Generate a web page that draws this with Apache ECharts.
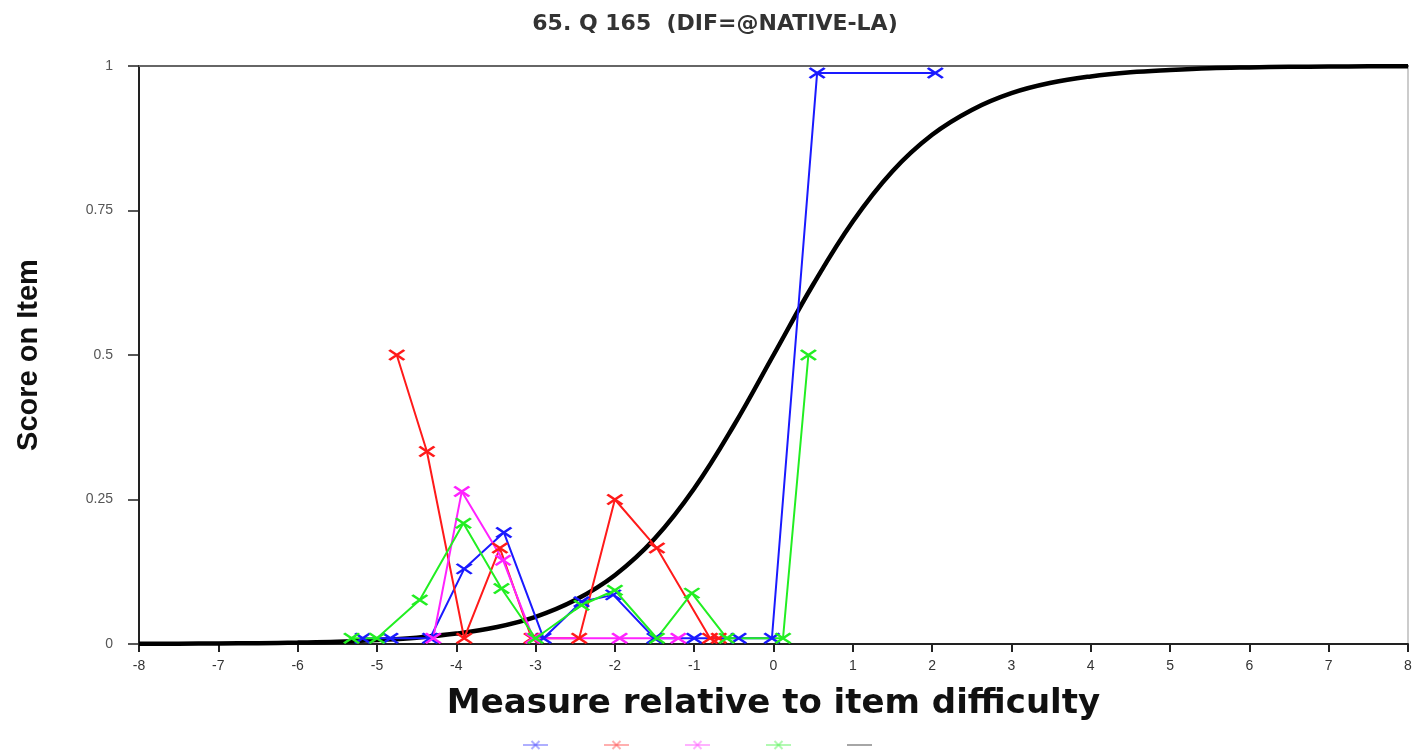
<!DOCTYPE html>
<html>
<head>
<meta charset="utf-8">
<script src="https://cdn.jsdelivr.net/npm/echarts@6/dist/echarts.min.js"></script>
<style>html,body{margin:0;padding:0;background:#fff}#c{width:1416px;height:752px}</style>
</head>
<body>
<div id="c"></div>
<script>
const titleText = '65. Q 165  (DIF=@NATIVE-LA)';
const xName = 'Measure relative to item difficulty';
const yName = 'Score on Item';
const yTickLabels = {0: '0', 0.25: '0.25', 0.5: '0.5', 0.75: '0.75', 1: '1'};

const blueX = [-5.18, -4.83, -4.33, -3.9, -3.4, -2.9, -2.42, -2.02, -1.5, -1.0, -0.44, -0.02, 0.55, 2.04];
const blueY = [0.01, 0.01, 0.01, 0.13, 0.193, 0.01, 0.073, 0.085, 0.01, 0.01, 0.01, 0.01, 0.988, 0.988];

const redX = [-4.75, -4.37, -3.9, -3.45, -3.05, -2.45, -2.0, -1.47, -0.8, -0.69];
const redY = [0.5, 0.333, 0.01, 0.166, 0.01, 0.01, 0.25, 0.166, 0.01, 0.01];

const magentaX = [-4.29, -3.93, -3.41, -3.03, -1.94, -1.2];
const magentaY = [0.01, 0.264, 0.145, 0.01, 0.01, 0.01];

const greenX = [-5.32, -5.0, -4.46, -3.91, -3.43, -3.0, -2.42, -2.0, -1.47, -1.03, -0.59, 0.12, 0.44];
const greenY = [0.01, 0.01, 0.076, 0.209, 0.096, 0.01, 0.067, 0.093, 0.01, 0.088, 0.01, 0.01, 0.5];

const curveX = [-8, -7.5, -7, -6.5, -6, -5.5, -5, -4.5, -4, -3.5, -3, -2.5, -2, -1.5, -1, -0.5, 0, 0.5, 1, 1.5, 2, 2.5, 3, 3.5, 4, 4.5, 5, 5.5, 6, 6.5, 7, 7.5, 8];
const curveY = [0.0003, 0.0006, 0.001, 0.0015, 0.0025, 0.004, 0.007, 0.011, 0.018, 0.029, 0.047, 0.076, 0.119, 0.182, 0.269, 0.378, 0.5, 0.622, 0.731, 0.818, 0.881, 0.924, 0.953, 0.971, 0.982, 0.989, 0.993, 0.996, 0.9975, 0.9985, 0.999, 0.9994, 0.9997];

const seriesNames = ['s1', 's2', 's3', 's4', 's5'];

function pts(xs, ys) { return xs.map((x, i) => [x, ys[i]]); }
const cross = 'path://M0,0L10,10M10,0L0,10';

function markSeries(name, xs, ys, color) {
  return {
    name: name, type: 'line', data: pts(xs, ys), z: 3,
    symbol: cross, symbolSize: [15, 10], showSymbol: true,
    lineStyle: {color: color, width: 2},
    itemStyle: {color: color, borderColor: color, borderWidth: 2.5},
    animation: false
  };
}

const chart = echarts.init(document.getElementById('c'));
chart.setOption({
  animation: false,
  title: {
    text: titleText, left: 710, top: 8, textAlign: 'center',
    textStyle: {fontFamily: 'DejaVu Sans', fontSize: 22, fontWeight: 'bold', color: '#333'}
  },
  legend: {
    data: [
      {name: seriesNames[0]}, {name: seriesNames[1]}, {name: seriesNames[2]}, {name: seriesNames[3]},
      {name: seriesNames[4], itemStyle: {opacity: 0}}
    ],
    left: 517, top: 735, itemWidth: 25, itemHeight: 10, itemGap: 54,
    formatter: () => '',
    itemStyle: {opacity: 0.35}, lineStyle: {opacity: 0.35},
    selectedMode: false
  },
  grid: {left: 139, right: 8, top: 66, bottom: 108},
  xAxis: [{
    type: 'value', min: -8, max: 8, interval: 1, position: 'bottom',
    name: xName, nameLocation: 'middle', nameGap: 43,
    nameTextStyle: {fontFamily: 'DejaVu Sans', fontSize: 34, fontWeight: 'bold', color: '#111'},
    axisLine: {show: true, onZero: false, lineStyle: {color: '#222', width: 2}},
    axisTick: {show: true, length: 8, lineStyle: {color: '#222', width: 2}},
    axisLabel: {color: '#333', fontFamily: 'Liberation Sans', fontSize: 14, margin: 15},
    splitLine: {show: false}
  }, {
    type: 'value', min: -8, max: 8, position: 'top',
    axisLine: {show: true, onZero: false, lineStyle: {color: '#666', width: 2}},
    axisTick: {show: false}, axisLabel: {show: false}, splitLine: {show: false}
  }],
  yAxis: [{
    type: 'value', min: 0, max: 1, interval: 0.25, position: 'left',
    name: yName, nameLocation: 'middle', nameGap: 96, nameRotate: 90,
    nameTextStyle: {fontFamily: 'Liberation Sans', fontSize: 29, fontWeight: 'bold', color: '#111'},
    axisLine: {show: true, onZero: false, lineStyle: {color: '#222', width: 2}},
    axisTick: {show: true, length: 11, lineStyle: {color: '#222', width: 1.5}},
    axisLabel: {color: '#555', fontFamily: 'Liberation Sans', fontSize: 14, margin: 26,
      formatter: v => yTickLabels[v] !== undefined ? yTickLabels[v] : ''},
    splitLine: {show: false}
  }, {
    type: 'value', min: 0, max: 1, position: 'right',
    axisLine: {show: true, onZero: false, lineStyle: {color: '#ccc', width: 2}},
    axisTick: {show: false}, axisLabel: {show: false}, splitLine: {show: false}
  }],
  series: [
    {
      name: seriesNames[4], type: 'line', data: pts(curveX, curveY), z: 2,
      smooth: 0.4, showSymbol: false, symbol: 'none',
      lineStyle: {color: '#000', width: 4.5}, itemStyle: {color: '#000'}
    },
    markSeries(seriesNames[0], blueX, blueY, '#1a1aff'),
    markSeries(seriesNames[1], redX, redY, '#ff1a1a'),
    markSeries(seriesNames[2], magentaX, magentaY, '#ff22ff'),
    markSeries(seriesNames[3], greenX, greenY, '#22ee22')
  ]
});
</script>
</body>
</html>
